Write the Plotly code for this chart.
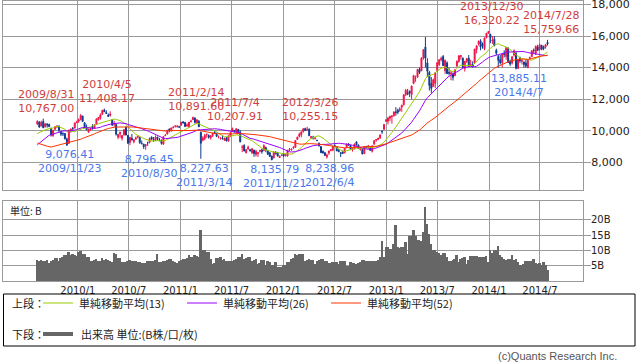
import pandas as pd
import plotly.graph_objects as go

# ---------------- data ----------------
first_week = "2009-08-10"

# weekly closes of the 52 weeks before the first plotted week (only used for the moving averages)
closes_before = [13019, 12666, 13072, 12212, 12214, 11920, 11893, 10938, 8276, 8693,
                 7649, 8576, 8583, 8462, 7910, 8512, 7917, 8235, 8588, 8739,
                 8859, 8836, 8230, 7745, 7994, 8077, 7779, 7416, 7568, 7173,
                 7569, 7945, 8626, 8749, 8964, 8907, 8707, 8977, 9385, 9265,
                 9225, 9523, 9768, 9786, 9703, 9877, 9816, 9287, 9344, 9944,
                 10357, 10412]

opens = (
    # 2009
    [10420, 10560, 10300, 10590, 10250, 10420, 10400, 10170, 9690, 10100, 10240, 10250, 9900, 9830, 9830, 9480, 9200, 10000, 10150, 10170, 10510]
    # 2010
    + [10610, 10700, 10930, 10500, 10210, 9900, 10050, 10230, 10150, 10400,
       10700, 10800, 11050, 11300, 11150, 10990, 10970, 10700, 10400, 10400,
       9600, 9800, 9520, 9740, 10240, 9700, 9260, 9520, 9300, 9480,
       9600, 9580, 9200, 9150, 9050, 9250, 9280, 9600, 9450, 9380,
       9600, 9450, 9400, 9150, 9700, 9800, 10100, 10000, 10200, 10300,
       10250, 10250]
    # 2011
    + [10350, 10560, 10530, 10300, 10250, 10590, 10700, 10800, 10500, 10600,
       9900, 9400, 9500, 9750, 9700, 9550, 9700, 9900, 9800, 9600,
       9500, 9550, 9400, 9550, 9350, 9650, 9950, 10000, 9900, 10080,
       9900, 8950, 9070, 8600, 8850, 8800, 8600, 8770, 8500, 8550,
       8700, 8800, 8750, 8930, 8750, 8600, 8400, 8280, 8650, 8600,
       8300, 8440]
    # 2012
    + [8550, 8420, 8400, 8800, 8790, 8900, 8950, 9450, 9650, 9750,
       9950, 10150, 10060, 10100, 9550, 9600, 9500, 9400, 9200, 9000,
       8700, 8600, 8350, 8600, 8750, 8780, 9050, 8980, 8770, 8600,
       8680, 8600, 8930, 9160, 9070, 8800, 8850, 9300, 9100, 8800,
       8800, 8550, 9000, 8900, 8950, 8700, 9150, 9400, 9450, 9550,
       9950, 10100, 10600]
    # 2013
    + [10600, 10800, 10900, 10950, 11200, 11300, 11300, 11500, 11650, 12300,
       12400, 12500, 12300, 13000, 13300, 13400, 13900, 13800, 14600, 15300,
       14300, 13700, 13000, 12800, 13000, 13800, 14200, 14500, 14700, 13800,
       14300, 13700, 13600, 13600, 13500, 14100, 14400, 14700, 14600, 13950,
       14400, 14600, 14200, 14200, 14300, 15150, 15500, 15700, 15500, 15200,
       15900, 16180]
    # 2014
    + [16100, 15700, 15800, 15100, 14700, 14500, 14300, 14900, 14700, 15200,
       14400, 14300, 14800, 14900, 13950, 14600, 14400, 14350, 14300, 14000,
       14600, 14700, 15100, 14900, 15300, 15150, 15400, 15300, 15300, 15600]
)

highs = (
    [10660, 10600, 10640, 10767, 10490, 10480, 10450, 10180, 10070, 10280, 10360, 10360, 10000, 9900, 9830, 9560, 10080, 10150, 10240, 10520, 10640]
    + [10790, 11050, 10950, 10550, 10400, 10130, 10200, 10420, 10400, 10780,
       10850, 11100, 11340, 11408, 11300, 11100, 11230, 10750, 10630, 10400,
       9800, 9950, 9720, 10090, 10250, 9750, 9600, 9800, 9460, 9630,
       9700, 9600, 9380, 9170, 9150, 9300, 9580, 9640, 9600, 9700,
       9620, 9540, 9450, 9650, 9790, 10060, 10150, 10190, 10300, 10330,
       10370, 10320]
    + [10560, 10620, 10560, 10480, 10560, 10700, 10891, 10860, 10730, 10680,
       9950, 9650, 9800, 9830, 9770, 9720, 9860, 10010, 9880, 9700,
       9600, 9700, 9560, 9600, 9690, 9890, 10207, 10050, 10150, 10100,
       10040, 9100, 9150, 8850, 9060, 8850, 8900, 8800, 8800, 8650,
       8800, 8850, 9150, 8990, 8800, 8650, 8420, 8700, 8700, 8660,
       8420, 8500]
    + [8560, 8530, 8780, 8900, 8880, 9020, 9400, 9620, 9870, 9950,
       10150, 10190, 10255, 10150, 9650, 9680, 9600, 9420, 9260, 9020,
       8750, 8660, 8550, 8730, 8850, 9020, 9140, 8990, 8850, 8650,
       8740, 8900, 9190, 9220, 9100, 8900, 9180, 9310, 9130, 8900,
       8820, 9030, 9040, 9100, 9000, 9100, 9400, 9460, 9560, 9760,
       10040, 10430, 10734]
    + [10880, 10950, 11000, 11230, 11500, 11400, 11500, 11660, 12300, 12650,
       12650, 12550, 12860, 13550, 13500, 13920, 14000, 14650, 15160, 15942,
       14600, 13800, 13400, 13300, 13700, 14350, 14520, 14700, 14800, 14500,
       14400, 14000, 13800, 13700, 13900, 14450, 14800, 14800, 14650, 14420,
       14620, 14800, 14500, 14400, 15200, 15400, 15720, 15800, 15600, 15910,
       16200, 16320]
    + [16150, 16000, 16000, 15200, 14800, 14800, 14900, 15100, 15300, 15300,
       14500, 14700, 15160, 15000, 14550, 14700, 14500, 14400, 14500, 14500,
       14700, 15100, 15210, 15400, 15450, 15500, 15450, 15400, 15500, 15760]
)

lows = (
    [10380, 10190, 10280, 10170, 10210, 10200, 10230, 9630, 9620, 10050, 10170, 9880, 9670, 9670, 9440, 9076, 9170, 9880, 10050, 10150, 10490]
    + [10500, 10670, 10570, 10180, 10040, 9870, 10000, 10080, 10120, 10390,
       10650, 10700, 10990, 11200, 11070, 10870, 10900, 10300, 10260, 9700,
       9460, 9550, 9380, 9690, 9700, 9190, 9090, 9400, 9200, 9420,
       9520, 9170, 9150, 8850, 8796, 9050, 9200, 9400, 9300, 9350,
       9380, 9330, 9120, 9120, 9650, 9760, 9900, 9950, 10150, 10200,
       10210, 10190]
    + [10340, 10460, 10250, 10260, 10200, 10520, 10680, 10450, 10450, 10250,
       8227, 9330, 9400, 9550, 9500, 9440, 9600, 9800, 9600, 9520,
       9440, 9450, 9380, 9340, 9300, 9600, 9930, 9880, 9850, 9800,
       9270, 8650, 8700, 8580, 8800, 8680, 8520, 8350, 8370, 8340,
       8630, 8550, 8700, 8640, 8470, 8360, 8135, 8250, 8500, 8370,
       8280, 8400]
    + [8350, 8370, 8370, 8700, 8740, 8870, 8930, 9420, 9580, 9580,
       9880, 10000, 10010, 9680, 9470, 9440, 9450, 9340, 9000, 8600,
       8550, 8400, 8238, 8470, 8700, 8700, 9000, 8710, 8650, 8330,
       8550, 8580, 8920, 9050, 8780, 8680, 8820, 9060, 8860, 8750,
       8500, 8540, 8900, 8850, 8750, 8620, 9130, 9300, 9400, 9480,
       9800, 10050, 10580]
    + [10400, 10600, 10450, 10900, 10950, 11050, 11200, 11200, 11600, 12200,
       12250, 12130, 12000, 12950, 13100, 13350, 13600, 13780, 14500, 14000,
       13400, 12550, 12400, 12780, 12700, 13750, 14100, 14400, 14100, 13600,
       13600, 13500, 13200, 13180, 13450, 14050, 14300, 14500, 13980, 13750,
       14300, 14050, 14100, 14000, 14250, 14900, 15400, 15100, 15200, 15100,
       15850, 16150]
    + [15550, 15500, 15350, 14800, 13995, 14200, 14000, 14650, 14500, 14300,
       14100, 14200, 14700, 13885, 13910, 14300, 14200, 14000, 14000, 13965,
       14500, 14680, 14900, 14800, 15050, 15100, 15100, 15100, 15200, 15400]
)

closes = (
    [10597, 10238, 10534, 10187, 10444, 10370, 10265, 9731, 10016, 10257, 10282, 10034, 9789, 9804, 9497, 9081, 10022, 10107, 10142, 10494, 10546]
    + [10681, 10982, 10590, 10198, 10057, 10092, 10123, 10126, 10368, 10751,
       10846, 10996, 11286, 11204, 11102, 10914, 11057, 10364, 10462, 9784,
       9768, 9901, 9705, 10067, 9737, 9203, 9585, 9408, 9431, 9537,
       9642, 9253, 9179, 8991, 9114, 9239, 9509, 9471, 9404, 9588,
       9500, 9426, 9202, 9625, 9724, 10022, 10039, 10178, 10211, 10303,
       10279, 10229]
    + [10541, 10499, 10274, 10360, 10543, 10605, 10842, 10527, 10693, 10254,
       9206, 9536, 9708, 9768, 9591, 9682, 9849, 9859, 9648, 9607,
       9521, 9492, 9514, 9351, 9678, 9868, 10137, 9974, 10132, 9833,
       9299, 8963, 8719, 8797, 8950, 8737, 8864, 8560, 8700, 8605,
       8747, 8678, 9050, 8801, 8514, 8375, 8160, 8643, 8536, 8401,
       8395, 8455]
    + [8390, 8500, 8766, 8841, 8831, 8947, 9384, 9595, 9777, 9929,
       10129, 10012, 10083, 9688, 9637, 9561, 9520, 9380, 9045, 8611,
       8593, 8440, 8459, 8721, 8798, 9006, 9021, 8724, 8669, 8566,
       8555, 8891, 9162, 9070, 8839, 8871, 9159, 9110, 8870, 8863,
       8534, 9002, 8933, 9051, 8757, 9024, 9366, 9446, 9527, 9737,
       9940, 10395, 10688]
    + [10801, 10913, 10926, 11191, 11153, 11173, 11385, 11606, 12283, 12560,
       12338, 12397, 12833, 13485, 13316, 13884, 13694, 14607, 15138, 14612,
       13774, 12877, 12686, 13230, 13677, 14309, 14506, 14589, 14129, 14466,
       13615, 13650, 13660, 13389, 13860, 14404, 14742, 14760, 14024, 14404,
       14561, 14088, 14202, 14086, 15165, 15382, 15662, 15299, 15403, 15870,
       16178, 16291]
    + [15912, 15734, 15391, 14914, 14462, 14313, 14865, 14841, 15274, 14327,
       14224, 14696, 15063, 13960, 14516, 14429, 14457, 14199, 14097, 14462,
       14632, 15077, 15097, 15349, 15095, 15437, 15164, 15215, 15457, 15500]
)

# weekly volume, billions
volumes = [
    7.0, 6.6, 6.8, 6.7, 6.5, 6.8, 6.0, 6.7, 6.9, 7.6,
    7.5, 6.7, 7.6, 7.7, 8.6, 8.5, 9.5, 8.6, 8.7, 8.4,
    8.3, 9.5, 9.8, 8.9, 8.8, 7.8, 7.7, 6.4, 6.5, 7.0,
    7.1, 6.5, 6.6, 7.6, 7.0, 7.1, 7.0, 6.4, 6.2, 9.2,
    9.0, 7.6, 7.4, 6.2, 6.1, 6.3, 6.7, 6.8, 6.6, 6.5,
    6.4, 6.3, 6.3, 5.9, 6.0, 5.8, 6.5, 6.4, 6.6, 6.7,
    6.8, 8.9, 6.2, 6.3, 6.5, 6.6, 7.0, 7.3, 7.2, 6.4,
    6.3, 5.9, 6.7, 6.8, 7.3, 7.2, 7.4, 8.4, 7.8, 7.9,
    8.4, 8.3, 8.0, 16.8, 10.0, 10.1, 9.5, 9.4, 7.3, 5.7,
    5.8, 7.6, 7.5, 7.7, 7.0, 7.1, 6.5, 6.4, 6.6, 6.7,
    7.0, 7.1, 8.0, 7.9, 8.9, 7.3, 7.4, 7.8, 7.7, 6.7,
    6.8, 7.3, 5.7, 5.8, 7.0, 6.9, 5.4, 6.4, 6.3, 5.1,
    5.2, 6.2, 4.6, 4.7, 4.6, 5.1, 5.2, 6.2, 6.3, 7.3,
    7.6, 8.7, 8.6, 8.7, 8.8, 8.7, 6.5, 7.0, 7.1, 6.9,
    7.0, 5.7, 6.7, 6.8, 7.3, 7.2, 6.5, 6.6, 5.9, 6.0,
    6.2, 6.3, 6.1, 5.7, 6.5, 6.6, 6.4, 4.8, 4.9, 6.2,
    5.9, 6.0, 5.7, 5.8, 6.2, 7.0, 6.9, 6.5, 6.6, 6.7,
    6.5, 6.4, 6.7, 6.8, 7.8, 13.0, 7.8, 11.0, 11.3, 10.5,
    10.6, 12.2, 18.2, 11.1, 10.9, 11.0, 11.1, 12.7, 8.9, 14.6,
    14.7, 16.7, 14.9, 13.3, 13.4, 13.0, 16.0, 24.1, 18.7, 15.4,
    12.2, 10.0, 10.1, 9.5, 9.1, 8.4, 9.1, 9.2, 8.0, 6.7,
    6.5, 7.0, 7.1, 8.6, 6.2, 7.3, 7.4, 7.8, 5.7, 7.0,
    8.2, 8.3, 8.2, 8.1, 8.0, 7.8, 7.9, 8.0, 8.1, 6.2,
    10.2, 9.1, 10.0, 10.0, 11.6, 8.4, 7.8, 7.3, 7.0, 7.1,
    7.3, 8.6, 7.0, 7.1, 6.2, 5.1, 5.2, 5.7, 6.5, 6.4,
    6.5, 6.6, 7.3, 5.9, 5.7, 5.8, 5.1, 6.2, 5.1, 3.7,
]

high_dates = ["2009-08-31", "2010-04-05", "2011-02-14", "2011-07-04", "2012-03-26", "2013-12-30", "2014-07-28"]
high_values = [10767.00, 11408.17, 10891.60, 10207.91, 10255.15, 16320.22, 15759.66]
low_dates = ["2009-11-23", "2010-08-30", "2011-03-14", "2011-11-21", "2012-06-04", "2014-04-07"]
low_values = [9076.41, 8796.45, 8227.63, 8135.79, 8238.96, 13885.11]

tick_dates = ["2010-01-01", "2010-07-01", "2011-01-01", "2011-07-01", "2012-01-01",
              "2012-07-01", "2013-01-01", "2013-07-01", "2014-01-01", "2014-07-01"]
tick_labels = ["2010/1", "2010/7", "2011/1", "2011/7", "2012/1",
               "2012/7", "2013/1", "2013/7", "2014/1", "2014/7"]
price_ticks = [8000, 10000, 12000, 14000, 16000, 18000]
volume_ticks = [5, 10, 15, 20]
volume_tick_labels = ["5B", "10B", "15B", "20B"]
ma_periods = [13, 26, 52]

n = len(closes)
assert len(opens) == n and len(highs) == n and len(lows) == n and len(volumes) == n, (len(opens), len(highs), len(lows), n, len(volumes))
weeks = pd.date_range(first_week, periods=n, freq="7D")

all_closes = pd.Series(closes_before + closes, dtype=float)
ma = {p: all_closes.rolling(p).mean().iloc[len(closes_before):].to_numpy() for p in ma_periods}

# ---------------- style ----------------
W, H = 638, 362
PL, PR, PT, PB = 3, 583, 1, 281          # plot area in pixels
UP, DOWN = "#f0144a", "#0c3a8e"
MA_COLORS = {13: "#99cc00", 26: "#9900ff", 52: "#ff3300"}
GRID = "#9a9a9a"
RED_TXT, BLUE_TXT = "#d23c3c", "#4a78ea"
LAT = "DejaVu Sans"
JP = "Noto Sans CJK JP"


def px_x(px):
    return (px - PL) / (PR - PL)


def px_y(py):
    return (PB - py) / (PB - PT)


fig = go.Figure()
fig.add_trace(go.Candlestick(
    x=weeks, open=opens, high=highs, low=lows, close=closes,
    increasing=dict(line=dict(color=UP, width=1), fillcolor=UP),
    decreasing=dict(line=dict(color=DOWN, width=1), fillcolor=DOWN),
    whiskerwidth=0, xaxis="x", yaxis="y", hoverinfo="skip",
))
for p in ma_periods:
    fig.add_trace(go.Scatter(x=weeks, y=ma[p], mode="lines",
                             line=dict(color=MA_COLORS[p], width=1),
                             xaxis="x", yaxis="y", hoverinfo="skip"))
fig.add_trace(go.Bar(x=weeks, y=volumes, marker=dict(color="#666666", line=dict(width=0)),
                     width=7 * 24 * 3600 * 1000, xaxis="x2", yaxis="y2", hoverinfo="skip"))

x_range = ["2009-04-10", "2014-12-01"]
main_dom = [px_y(190), 1.0]
vol_dom = [0.0, px_y(201)]

common_x = dict(range=x_range, type="date", showgrid=True, gridcolor=GRID, gridwidth=1,
                showline=True, linecolor=GRID, linewidth=1, mirror=True, zeroline=False,
                tickmode="array", tickvals=tick_dates, ticktext=tick_labels, ticks="")

annotations = []
for d, v in zip(high_dates, high_values):
    yy, mm, dd = d.split("-")
    annotations.append(dict(x=d, y=v, xref="x", yref="y", showarrow=False,
                            text=f"{int(yy)}/{int(mm)}/{int(dd)}<br>{v:,.2f}",
                            xanchor="center", yanchor="bottom", xshift=3, yshift=2,
                            font=dict(family=LAT, size=11, color=RED_TXT)))
for d, v in zip(low_dates, low_values):
    yy, mm, dd = d.split("-")
    annotations.append(dict(x=d, y=v, xref="x", yref="y", showarrow=False,
                            text=f"{v:,.2f}<br>{int(yy)}/{int(mm)}/{int(dd)}",
                            xanchor="center", yanchor="top", xshift=3, yshift=-1,
                            font=dict(family=LAT, size=11, color=BLUE_TXT)))

def paper_text(text, x, y, anchor="left", size=11, color="#222222", family=JP):
    annotations.append(dict(x=px_x(x), y=px_y(y), xref="paper", yref="paper", text=text,
                            showarrow=False, xanchor=anchor, yanchor="middle",
                            font=dict(family=family, size=size, color=color)))

paper_text("単位: B", 8, 210, size=10)
paper_text("上段：", 10, 303)
paper_text("単純移動平均(13)", 77, 303)
paper_text("単純移動平均(26)", 221, 303)
paper_text("単純移動平均(52)", 365, 303)
paper_text("下段：", 10, 334)
paper_text("出来高 単位:(B株/口/枚)", 79, 334)
paper_text("(c)Quants Research Inc.", 619, 356, anchor="right", size=11, color="#555555",
           family="Liberation Sans")

shapes = [
    dict(type="rect", xref="paper", yref="paper", x0=px_x(3.5), x1=px_x(635), y0=px_y(346), y1=px_y(294),
         line=dict(color="#000000", width=1), fillcolor="rgba(0,0,0,0)"),
    dict(type="line", xref="paper", yref="paper", x0=px_x(43), x1=px_x(73), y0=px_y(303), y1=px_y(303),
         line=dict(color=MA_COLORS[13], width=1)),
    dict(type="line", xref="paper", yref="paper", x0=px_x(187), x1=px_x(217), y0=px_y(303), y1=px_y(303),
         line=dict(color=MA_COLORS[26], width=1)),
    dict(type="line", xref="paper", yref="paper", x0=px_x(331), x1=px_x(361), y0=px_y(303), y1=px_y(303),
         line=dict(color=MA_COLORS[52], width=1)),
    dict(type="line", xref="paper", yref="paper", x0=px_x(43), x1=px_x(73), y0=px_y(334), y1=px_y(334),
         line=dict(color="#666666", width=4)),
]

fig.update_layout(
    width=W, height=H, autosize=False,
    margin=dict(l=PL, r=W - PR, t=PT, b=H - PB, pad=0),
    paper_bgcolor="white", plot_bgcolor="white",
    showlegend=False, bargap=0,
    font=dict(family=LAT, size=11, color="#222222"),
    xaxis=dict(common_x, domain=[0, 1], anchor="y", showticklabels=False,
               rangeslider=dict(visible=False)),
    yaxis=dict(domain=main_dom, range=[6247, 18221], side="right", anchor="x",
               tickmode="array", tickvals=price_ticks, tickformat=",d",
               showgrid=True, gridcolor=GRID, showline=True, linecolor=GRID, mirror=True,
               zeroline=False, ticks="outside", ticklen=7, tickcolor=GRID,
               ticklabeloverflow="allow", automargin=False, ticklabelstandoff=-2,
               tickfont=dict(family=LAT, size=11, color="#222222")),
    xaxis2=dict(common_x, domain=[0, 1], anchor="y2", showticklabels=True, automargin=False,
                tickfont=dict(family=LAT, size=10, color="#222222")),
    yaxis2=dict(domain=vol_dom, range=[0, 26.2], side="right", anchor="x2",
                tickmode="array", tickvals=volume_ticks, ticktext=volume_tick_labels,
                showgrid=True, gridcolor=GRID, showline=True, linecolor=GRID, mirror=True,
                zeroline=False, ticks="outside", ticklen=7, tickcolor=GRID, automargin=False,
                ticklabelstandoff=-2,
                tickfont=dict(family=LAT, size=10, color="#222222")),
    annotations=annotations, shapes=shapes,
)

fig.write_html("out.html", config={"displayModeBar": False},
               post_script="document.body.style.margin='0';document.body.style.padding='0';")
